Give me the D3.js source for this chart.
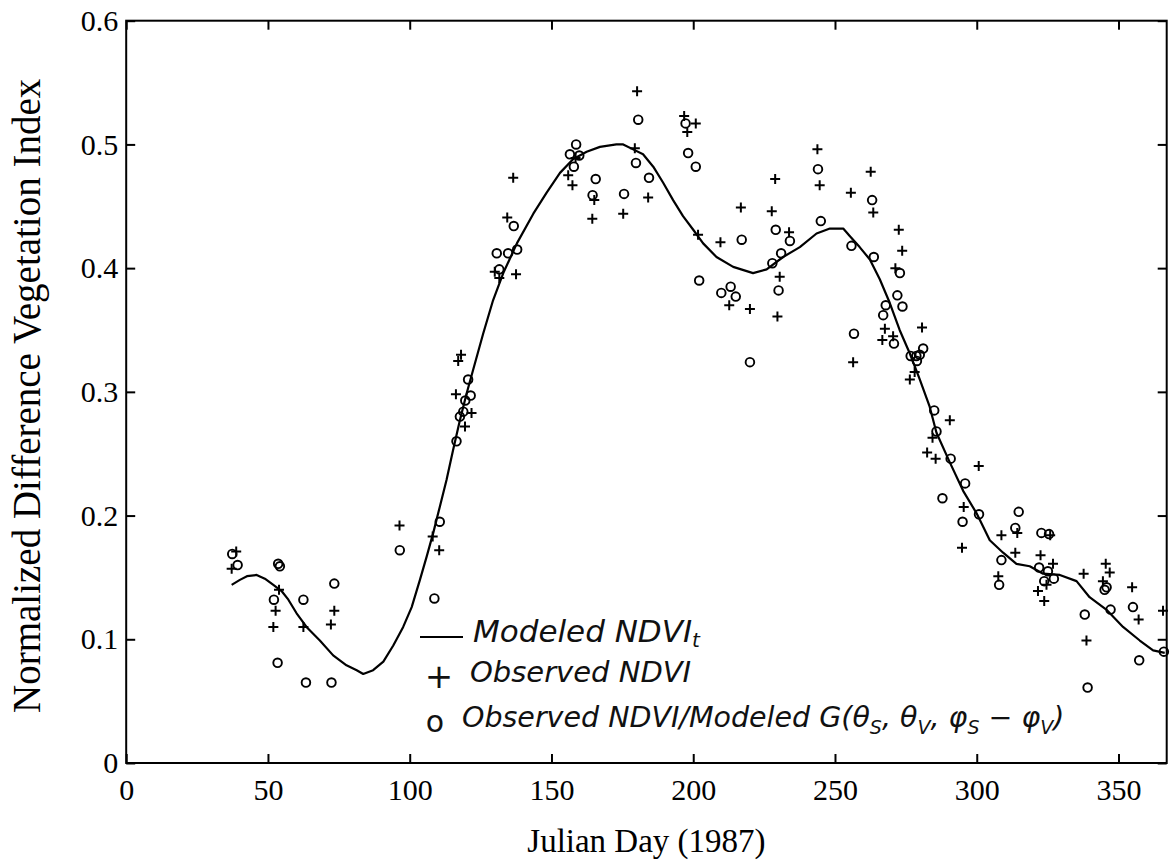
<!DOCTYPE html>
<html>
<head>
<meta charset="utf-8">
<script src="https://cdn.jsdelivr.net/npm/d3@7"></script>
<style>
  body { margin: 0; background: #fff; }
</style>
</head>
<body>
<svg id="chart" width="1173" height="867"></svg>
<script>
// modeled NDVI_t (solid line)
const modelDays = [37.2, 40.1, 42.6, 46.0, 48.9, 51.9, 54.8, 57.2, 60.1, 63.6, 68.3, 73.0, 77.7, 81.3, 83.6, 87.1, 90.7, 94.2, 97.7, 100.7, 103.6, 106.0, 108.3, 110.6, 113.0, 115.3, 117.7, 120.0, 122.4, 125.9, 129.4, 133.0, 137.8, 143.6, 148.3, 153.0, 157.6, 162.4, 167.1, 172.9, 175.3, 178.8, 182.3, 185.9, 189.4, 192.9, 196.4, 200.0, 203.5, 208.2, 214.1, 221.1, 225.9, 231.7, 237.6, 243.5, 248.2, 252.9, 255.2, 258.7, 262.3, 265.8, 269.3, 272.8, 276.4, 279.9, 283.4, 285.8, 290.5, 295.2, 299.9, 304.6, 309.3, 314.0, 318.7, 323.4, 329.3, 335.2, 339.8, 345.7, 351.6, 357.5, 362.2, 366.3];
const modelNdvi = [0.144, 0.148, 0.151, 0.152, 0.149, 0.144, 0.139, 0.132, 0.121, 0.110, 0.099, 0.087, 0.079, 0.075, 0.072, 0.075, 0.082, 0.095, 0.110, 0.126, 0.148, 0.167, 0.186, 0.207, 0.229, 0.253, 0.277, 0.298, 0.318, 0.347, 0.374, 0.396, 0.420, 0.444, 0.461, 0.477, 0.488, 0.494, 0.498, 0.500, 0.500, 0.496, 0.492, 0.482, 0.469, 0.455, 0.442, 0.431, 0.420, 0.409, 0.401, 0.396, 0.399, 0.409, 0.417, 0.428, 0.432, 0.432, 0.426, 0.417, 0.407, 0.391, 0.372, 0.350, 0.331, 0.310, 0.288, 0.267, 0.243, 0.220, 0.202, 0.180, 0.170, 0.161, 0.159, 0.153, 0.152, 0.147, 0.134, 0.124, 0.110, 0.099, 0.091, 0.089];

// observed NDVI (+)
const obsDays = [37.2, 38.8, 53.9, 52.7, 51.9, 62.5, 73.4, 72.2, 96.4, 108.1, 110.4, 116.3, 117.1, 118.1, 121.8, 119.5, 130.0, 131.6, 137.5, 134.4, 136.5, 155.9, 157.4, 158.5, 165.1, 164.4, 175.3, 179.4, 180.2, 184.1, 196.8, 197.9, 200.9, 201.7, 209.6, 216.8, 212.7, 220.0, 227.7, 228.9, 229.7, 230.5, 233.8, 243.8, 244.6, 255.6, 256.4, 262.6, 263.5, 266.7, 267.6, 270.5, 271.3, 272.5, 273.7, 276.4, 278.1, 280.7, 282.5, 284.4, 285.5, 290.5, 294.8, 295.4, 300.7, 307.6, 308.7, 313.6, 314.3, 321.6, 322.5, 323.8, 324.6, 325.9, 326.9, 337.7, 338.7, 344.5, 345.5, 346.9, 354.8, 357.1, 365.7];
const obsNdvi = [0.157, 0.171, 0.140, 0.123, 0.110, 0.110, 0.123, 0.112, 0.192, 0.183, 0.172, 0.298, 0.325, 0.330, 0.283, 0.272, 0.397, 0.392, 0.395, 0.441, 0.473, 0.475, 0.467, 0.489, 0.455, 0.440, 0.444, 0.497, 0.543, 0.457, 0.523, 0.510, 0.517, 0.427, 0.421, 0.449, 0.370, 0.367, 0.446, 0.472, 0.361, 0.393, 0.429, 0.496, 0.467, 0.461, 0.324, 0.478, 0.445, 0.342, 0.351, 0.345, 0.400, 0.431, 0.414, 0.310, 0.316, 0.352, 0.251, 0.263, 0.246, 0.277, 0.174, 0.207, 0.240, 0.151, 0.184, 0.170, 0.186, 0.139, 0.168, 0.131, 0.144, 0.184, 0.161, 0.153, 0.099, 0.147, 0.161, 0.154, 0.142, 0.116, 0.123];

// observed NDVI / modeled G (o)
const corrDays = [37.4, 39.3, 53.6, 54.2, 52.1, 53.4, 62.5, 63.4, 73.4, 72.4, 96.5, 108.7, 110.6, 116.5, 117.7, 118.9, 119.6, 121.5, 120.6, 130.7, 134.7, 137.9, 136.7, 131.6, 156.5, 158.7, 159.8, 157.9, 165.6, 164.5, 175.6, 179.8, 180.6, 184.4, 197.3, 198.2, 200.9, 202.1, 209.9, 213.2, 215.0, 217.1, 220.0, 227.9, 229.1, 230.1, 231.0, 234.1, 244.0, 245.0, 255.8, 256.7, 263.1, 263.7, 267.0, 267.9, 270.8, 272.0, 272.9, 273.8, 276.7, 278.7, 278.9, 279.9, 281.1, 285.0, 285.8, 287.9, 290.8, 295.0, 295.9, 300.8, 307.9, 308.7, 313.6, 314.8, 322.0, 322.8, 323.8, 325.1, 325.5, 327.2, 338.1, 339.1, 345.1, 345.8, 347.2, 355.1, 357.3, 366.0];
const corrNdvi = [0.169, 0.160, 0.161, 0.159, 0.132, 0.081, 0.132, 0.065, 0.145, 0.065, 0.172, 0.133, 0.195, 0.260, 0.280, 0.284, 0.293, 0.297, 0.310, 0.412, 0.412, 0.415, 0.434, 0.399, 0.492, 0.500, 0.491, 0.482, 0.472, 0.459, 0.460, 0.485, 0.520, 0.473, 0.517, 0.493, 0.482, 0.390, 0.380, 0.385, 0.377, 0.423, 0.324, 0.404, 0.431, 0.382, 0.412, 0.422, 0.480, 0.438, 0.418, 0.347, 0.455, 0.409, 0.362, 0.370, 0.339, 0.378, 0.396, 0.369, 0.329, 0.329, 0.325, 0.330, 0.335, 0.285, 0.268, 0.214, 0.246, 0.195, 0.226, 0.201, 0.144, 0.164, 0.190, 0.203, 0.158, 0.186, 0.147, 0.155, 0.185, 0.149, 0.120, 0.061, 0.140, 0.142, 0.124, 0.126, 0.083, 0.090];

const xTicks = [0, 50, 100, 150, 200, 250, 300, 350];
const yTicks = [0, 0.1, 0.2, 0.3, 0.4, 0.5, 0.6];

const serif = "'Palatino Linotype', 'Book Antiqua', Palatino, 'Liberation Serif', serif";
const hand = "'DejaVu Sans', sans-serif";

const margin = { top: 20.7, right: 6.3, bottom: 104, left: 126.2 };
const width = 1173, height = 867;
const chartWidth = width - margin.left - margin.right;
const chartHeight = height - margin.top - margin.bottom;

const svg = d3.select("#chart");
const chart = svg.append("g")
    .attr("transform", "translate(" + margin.left + "," + margin.top + ")");

const xScale = d3.scaleLinear().domain([0, 367]).range([0, chartWidth]);
const yScale = d3.scaleLinear().domain([0, 0.6]).range([chartHeight, 0]);

function styleAxis(g) {
    g.select(".domain").remove();
    g.selectAll(".tick line").attr("stroke", "#000").attr("stroke-width", 2);
    g.selectAll(".tick text")
        .attr("fill", "#000")
        .style("font-family", serif)
        .style("font-size", "30px");
}

chart.append("g")
    .attr("transform", "translate(0," + chartHeight + ")")
    .call(d3.axisBottom(xScale).tickValues(xTicks).tickSizeInner(-9).tickSizeOuter(0).tickPadding(16))
    .call(styleAxis);

chart.append("g")
    .call(d3.axisTop(xScale).tickValues(xTicks).tickSizeInner(-9).tickSizeOuter(0).tickFormat(""))
    .call(styleAxis);

chart.append("g")
    .call(d3.axisLeft(yScale).tickValues(yTicks).tickSizeInner(-9).tickSizeOuter(0).tickPadding(8)
        .tickFormat(d => d === 0 ? "0" : d3.format(".1f")(d)))
    .call(styleAxis);

chart.append("g")
    .attr("transform", "translate(" + chartWidth + ",0)")
    .call(d3.axisRight(yScale).tickValues(yTicks).tickSizeInner(-9).tickSizeOuter(0).tickFormat(""))
    .call(styleAxis);

// frame
chart.append("rect")
    .attr("x", 0).attr("y", 0)
    .attr("width", chartWidth).attr("height", chartHeight)
    .attr("fill", "none")
    .attr("stroke", "#000")
    .attr("stroke-width", 2);

// modeled line
const modelLine = d3.line()
    .x((d, i) => xScale(modelDays[i]))
    .y(d => yScale(d));

chart.append("path")
    .datum(modelNdvi)
    .attr("fill", "none")
    .attr("stroke", "#000")
    .attr("stroke-width", 2.2)
    .attr("stroke-linejoin", "round")
    .attr("d", modelLine);

// observed +
const plusSize = 5;
chart.append("g")
    .selectAll("path")
    .data(obsNdvi)
    .join("path")
    .attr("transform", (d, i) => "translate(" + xScale(obsDays[i]) + "," + yScale(d) + ")")
    .attr("d", "M" + (-plusSize) + ",0H" + plusSize + "M0," + (-plusSize) + "V" + plusSize)
    .attr("stroke", "#000")
    .attr("stroke-width", 2);

// corrected o
chart.append("g")
    .selectAll("circle")
    .data(corrNdvi)
    .join("circle")
    .attr("cx", (d, i) => xScale(corrDays[i]))
    .attr("cy", d => yScale(d))
    .attr("r", 4.3)
    .attr("fill", "none")
    .attr("stroke", "#000")
    .attr("stroke-width", 1.9);

// axis titles
svg.append("text")
    .attr("x", margin.left + chartWidth / 2)
    .attr("y", 852)
    .attr("text-anchor", "middle")
    .style("font-family", serif)
    .style("font-size", "33px")
    .text("Julian Day (1987)");

svg.append("text")
    .attr("transform", "translate(40," + (margin.top + chartHeight / 2 + 4) + ") rotate(-90)")
    .attr("text-anchor", "middle")
    .style("font-family", serif)
    .style("font-size", "39px")
    .text("Normalized Difference Vegetation Index");

// handwritten legend
const legend = svg.append("g")
    .style("font-family", hand)
    .style("font-style", "italic")
    .attr("fill", "#111");

legend.append("line")
    .attr("x1", 420).attr("x2", 463)
    .attr("y1", 637).attr("y2", 637)
    .attr("stroke", "#000").attr("stroke-width", 2);

const l1 = legend.append("text")
    .attr("x", 473).attr("y", 642)
    .style("font-size", "31px");
l1.append("tspan").text("Modeled NDVI");
l1.append("tspan").attr("dy", 5).style("font-size", "20px").text("t");

legend.append("text")
    .attr("x", 439).attr("y", 688)
    .attr("text-anchor", "middle")
    .style("font-size", "34px")
    .style("font-style", "normal")
    .text("+");

legend.append("text")
    .attr("x", 470).attr("y", 682)
    .style("font-size", "29px")
    .text("Observed NDVI");

legend.append("text")
    .attr("x", 435).attr("y", 732)
    .attr("text-anchor", "middle")
    .style("font-size", "30px")
    .style("font-style", "normal")
    .text("o");

const l3 = legend.append("text")
    .attr("x", 462).attr("y", 727)
    .style("font-size", "28.5px");
l3.append("tspan").text("Observed NDVI/Modeled G(θ");
l3.append("tspan").attr("dy", 7).style("font-size", "19px").text("S");
l3.append("tspan").attr("dy", -7).text(", θ");
l3.append("tspan").attr("dy", 7).style("font-size", "19px").text("V");
l3.append("tspan").attr("dy", -7).text(", φ");
l3.append("tspan").attr("dy", 7).style("font-size", "19px").text("S");
l3.append("tspan").attr("dy", -7).text(" − φ");
l3.append("tspan").attr("dy", 7).style("font-size", "19px").text("V");
l3.append("tspan").attr("dy", -7).text(")");
</script>
</body>
</html>
